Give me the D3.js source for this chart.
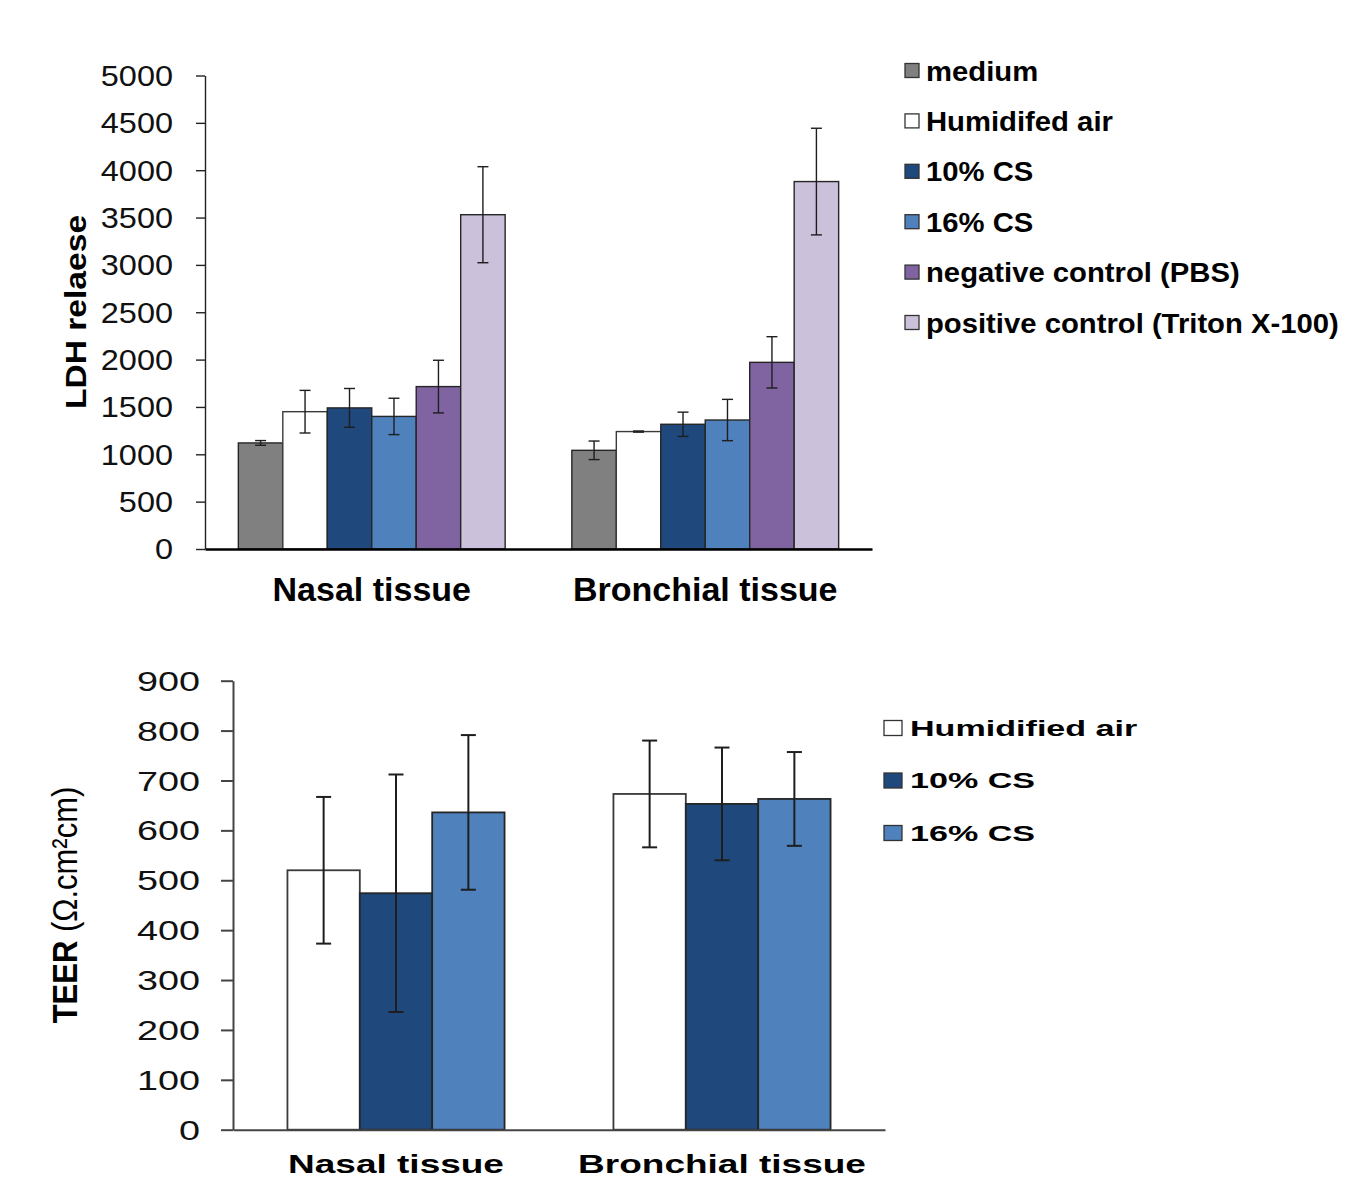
<!DOCTYPE html>
<html>
<head>
<meta charset="utf-8">
<script src="https://cdn.jsdelivr.net/npm/d3@7"></script>
<style>
  html, body { margin: 0; padding: 0; background: #ffffff; }
  svg text { font-family: "Liberation Sans", Arial, sans-serif; }
</style>
</head>
<body>
<svg id="chart" width="1359" height="1187"></svg>
<script>
// ---- LDH release (upper panel) ----
const ldhCategories = ["Nasal tissue", "Bronchial tissue"];
const ldhSeries = ["medium", "Humidifed air", "10% CS", "16% CS", "negative control (PBS)", "positive control (Triton X-100)"];
const ldhColors = ["#808080", "#ffffff", "#1f497d", "#4f81bd", "#8064a2", "#ccc1da"];
const ldhNasal = [1120, 1450, 1490, 1400, 1715, 3530];
const ldhNasalErr = [25, 225, 205, 192, 278, 507];
const ldhBronchial = [1042, 1240, 1317, 1362, 1971, 3880];
const ldhBronchialErr = [98, 6, 128, 218, 271, 563];
const ldhTicks = [0, 500, 1000, 1500, 2000, 2500, 3000, 3500, 4000, 4500, 5000];

// ---- TEER (lower panel) ----
const teerCategories = ["Nasal tissue", "Bronchial tissue"];
const teerSeries = ["Humidified air", "10% CS", "16% CS"];
const teerColors = ["#ffffff", "#1f497d", "#4f81bd"];
const teerNasal = [520, 474, 636];
const teerNasalErr = [147, 238, 155];
const teerBronchial = [673, 653, 663];
const teerBronchialErr = [107, 113, 94];
const teerTicks = [0, 100, 200, 300, 400, 500, 600, 700, 800, 900];

const svg = d3.select("#chart");

function buildRows(cats, series, valsByCat, errsByCat) {
  const rows = [];
  cats.forEach((c, ci) => {
    series.forEach((s, si) => {
      rows.push({ cat: c, series: s, si, value: valsByCat[ci][si], err: errsByCat[ci][si] });
    });
  });
  return rows;
}

function drawPanel(cfg) {
  const g = svg.append("g");
  const x0 = d3.scaleBand().domain(cfg.categories).range(cfg.xRange)
    .paddingInner(cfg.pad).paddingOuter(cfg.pad / 2);
  const x1 = d3.scaleBand().domain(cfg.series).range([0, x0.bandwidth()]);
  const y = d3.scaleLinear().domain(cfg.yDomain).range(cfg.yRange);
  const rows = buildRows(cfg.categories, cfg.series, cfg.values, cfg.errors);

  // bars
  g.selectAll("rect.bar").data(rows).join("rect")
    .attr("class", "bar")
    .attr("x", d => x0(d.cat) + x1(d.series))
    .attr("y", d => y(d.value))
    .attr("width", x1.bandwidth())
    .attr("height", d => y(0) - y(d.value))
    .attr("fill", d => cfg.colors[d.si])
    .attr("stroke", d => cfg.colors[d.si] === "#ffffff" ? "#3a3a3a" : "#262626")
    .attr("stroke-width", cfg.barStroke);

  // error bars
  const eb = g.selectAll("g.err").data(rows).join("g").attr("class", "err")
    .attr("stroke", "#1e1e1e").attr("stroke-width", cfg.errStroke);
  const cx = d => x0(d.cat) + x1(d.series) + x1.bandwidth() / 2;
  eb.append("line")
    .attr("x1", cx).attr("x2", cx)
    .attr("y1", d => y(d.value + d.err)).attr("y2", d => y(d.value - d.err));
  eb.append("line")
    .attr("x1", d => cx(d) - cfg.cap / 2).attr("x2", d => cx(d) + cfg.cap / 2)
    .attr("y1", d => y(d.value + d.err)).attr("y2", d => y(d.value + d.err));
  eb.append("line")
    .attr("x1", d => cx(d) - cfg.cap / 2).attr("x2", d => cx(d) + cfg.cap / 2)
    .attr("y1", d => y(d.value - d.err)).attr("y2", d => y(d.value - d.err));

  // y axis (line + ticks from d3, labels placed separately)
  const yAxis = g.append("g").attr("transform", `translate(${cfg.xRange[0]},0)`)
    .call(d3.axisLeft(y).tickValues(cfg.ticks).tickSize(cfg.tickLen).tickSizeOuter(0).tickFormat(""));
  yAxis.selectAll("path, line").attr("stroke", cfg.yAxisColor).attr("stroke-width", cfg.yAxisWidth);
  yAxis.selectAll("text").remove();

  g.selectAll("text.ytick").data(cfg.ticks).join("text")
    .attr("class", "ytick")
    .attr("transform", d => `translate(${cfg.tickLabelRight},${y(d) + cfg.tickFont * 0.36}) scale(${cfg.tickScale},1)`)
    .attr("text-anchor", "end")
    .attr("font-size", cfg.tickFont)
    .attr("fill", "#111")
    .text(d => d);

  // x axis line
  const xAxis = g.append("g").attr("transform", `translate(0,${y(0)})`)
    .call(d3.axisBottom(x0).tickSize(0).tickSizeOuter(0).tickFormat(""));
  xAxis.selectAll("path").attr("stroke", cfg.xAxisColor).attr("stroke-width", cfg.xAxisWidth);

  // category labels
  g.selectAll("text.cat").data(cfg.categories).join("text")
    .attr("class", "cat")
    .attr("transform", d => `translate(${x0(d) + x0.bandwidth() / 2},${cfg.catBaseline}) scale(${cfg.catScale},1)`)
    .attr("text-anchor", "middle")
    .attr("font-size", cfg.catFont)
    .attr("font-weight", "bold")
    .attr("fill", "#000")
    .text(d => d);

  // legend
  const lg = g.selectAll("g.leg").data(cfg.series).join("g").attr("class", "leg")
    .attr("transform", (d, i) => `translate(${cfg.legX},${cfg.legY + i * cfg.legStep})`);
  lg.append("rect")
    .attr("x", 0).attr("y", -cfg.swH / 2)
    .attr("width", cfg.swW).attr("height", cfg.swH)
    .attr("fill", (d, i) => cfg.colors[i])
    .attr("stroke", "#333").attr("stroke-width", 1.3);
  lg.append("text")
    .attr("transform", `translate(${cfg.legTextX},${cfg.legFont * 0.36}) scale(${cfg.legScale},1)`)
    .attr("font-size", cfg.legFont)
    .attr("font-weight", "bold")
    .attr("fill", "#000")
    .text(d => d);
  return { g, y };
}

// upper panel
const ldhPanel = drawPanel({
  categories: ldhCategories, series: ldhSeries, colors: ldhColors,
  values: [ldhNasal, ldhBronchial], errors: [ldhNasalErr, ldhBronchialErr],
  ticks: ldhTicks, yDomain: [0, 5000], yRange: [549, 75.5],
  xRange: [205, 872], pad: 0.2,
  barStroke: 1.4, errStroke: 1.4, cap: 11,
  tickLen: 9, yAxisColor: "#222", yAxisWidth: 1.4, xAxisColor: "#000", xAxisWidth: 2.5,
  tickLabelRight: 173, tickFont: 29, tickScale: 1.12,
  catBaseline: 601, catFont: 34, catScale: 1.0,
  legX: 905, legY: 70.5, legStep: 50.4, swW: 14, swH: 14,
  legTextX: 21, legFont: 28, legScale: 1.045
});

svg.append("text")
  .attr("transform", "translate(86,312) rotate(-90) scale(1.12,1)")
  .attr("text-anchor", "middle")
  .attr("font-size", 30)
  .attr("font-weight", "bold")
  .attr("fill", "#000")
  .text("LDH relaese");

// lower panel
const teerPanel = drawPanel({
  categories: teerCategories, series: teerSeries, colors: teerColors,
  values: [teerNasal, teerBronchial], errors: [teerNasalErr, teerBronchialErr],
  ticks: teerTicks, yDomain: [0, 900], yRange: [1129.7, 680.7],
  xRange: [233, 885], pad: 0.334,
  barStroke: 1.8, errStroke: 2, cap: 15,
  tickLen: 12, yAxisColor: "#444", yAxisWidth: 2, xAxisColor: "#444", xAxisWidth: 2,
  tickLabelRight: 200, tickFont: 28, tickScale: 1.35,
  catBaseline: 1173, catFont: 25, catScale: 1.48,
  legX: 884, legY: 728, legStep: 52.5, swW: 18, swH: 15,
  legTextX: 26, legFont: 22, legScale: 1.55
});

const teerTitle = svg.append("text")
  .attr("transform", "translate(77,905) rotate(-90) scale(1,1.15)")
  .attr("text-anchor", "middle")
  .attr("font-size", 31)
  .attr("fill", "#000");
teerTitle.append("tspan").attr("font-weight", "bold").text("TEER ");
teerTitle.append("tspan").text("(Ω.cm²cm)");
</script>
</body>
</html>
